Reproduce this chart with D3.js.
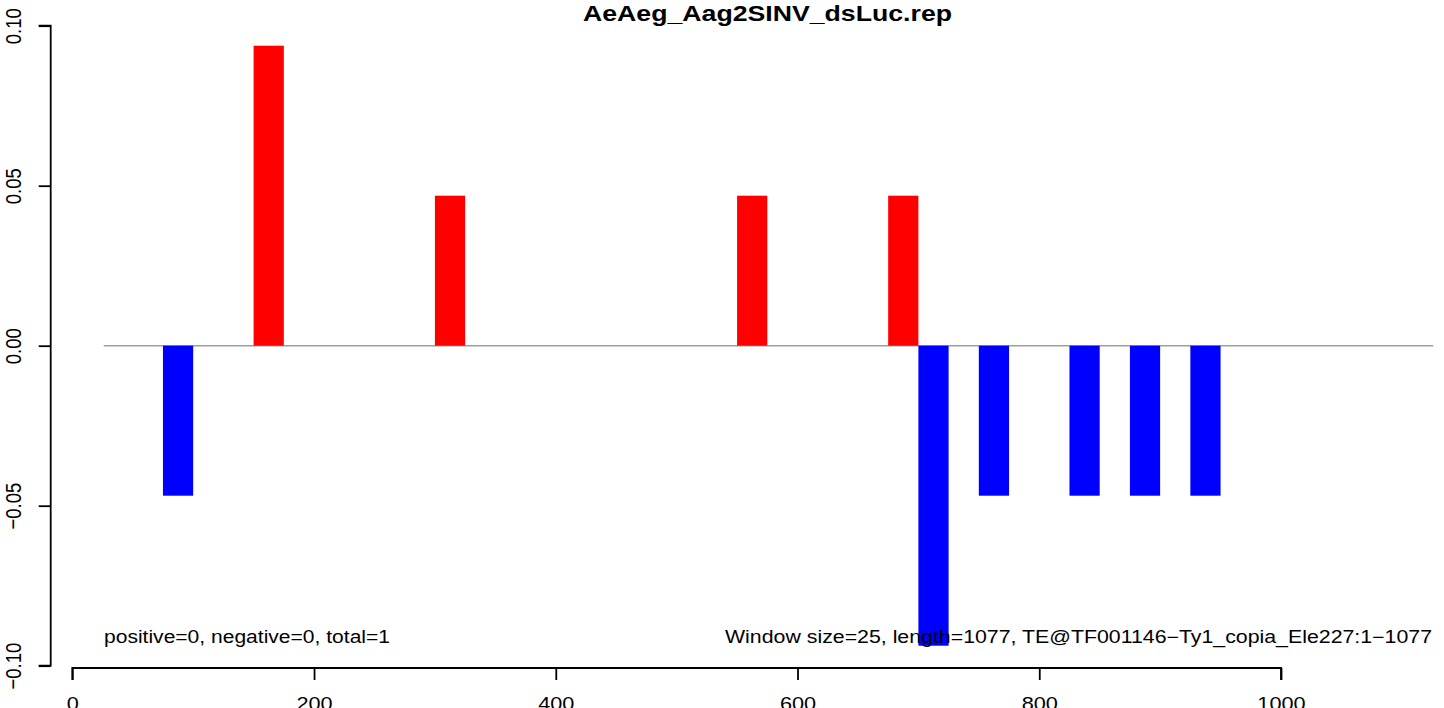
<!DOCTYPE html>
<html><head><meta charset="utf-8">
<script src="https://cdn.jsdelivr.net/npm/d3@7"></script>
<style>
html,body{margin:0;padding:0;background:#fff;}
svg{display:block;}
text{font-family:"Liberation Sans",Arial,Helvetica,sans-serif;fill:#000;}
</style></head>
<body>
<svg id="c" width="1444" height="708"></svg>
<script>
const title = "AeAeg_Aag2SINV_dsLuc.rep";
const windowSize = 25;
const binStarts = [75, 150, 300, 550, 675, 700, 750, 825, 875, 925];
const binValues = [-0.046875, 0.09375, 0.046875, 0.046875, 0.046875, -0.09375, -0.046875, -0.046875, -0.046875, -0.046875];
const xTicks = [0, 200, 400, 600, 800, 1000];
const yTicks = [-0.10, -0.05, 0.00, 0.05, 0.10];
const yTickLabels = ["\u22120.10", "\u22120.05", "0.00", "0.05", "0.10"];
const zeroLineRange = [26, 1126];
const leftNote = "positive=0, negative=0, total=1";
const rightNote = "Window size=25, length=1077, TE@TF001146\u2212Ty1_copia_Ele227:1\u22121077";

const svg = d3.select("#c");
const x = d3.scaleLinear().domain([0, 1000]).range([72.3, 1281]);
const y = d3.scaleLinear().domain([-0.1, 0.1]).range([665.7, 25.7]);
const stretch = 1.24;

// zero line
svg.append("line")
  .attr("x1", x(zeroLineRange[0])).attr("x2", x(zeroLineRange[1]))
  .attr("y1", y(0)).attr("y2", y(0))
  .attr("stroke", "#9e9e9e").attr("stroke-width", 1.5);

// bars
svg.append("g").selectAll("rect").data(binStarts.map((s, i) => ({s, v: binValues[i]})))
  .join("rect")
  .attr("x", d => x(d.s))
  .attr("width", d => x(d.s + windowSize) - x(d.s))
  .attr("y", d => y(Math.max(0, d.v)))
  .attr("height", d => Math.abs(y(d.v) - y(0)))
  .attr("fill", d => d.v >= 0 ? "#ff0000" : "#0000ff");

// y axis
const yAxis = d3.axisLeft(y).tickValues(yTicks).tickSize(12).tickFormat((d, i) => yTickLabels[i]);
const gy = svg.append("g").attr("transform", "translate(50.7,0)").call(yAxis);
gy.attr("font-family", null).attr("font-size", null);
gy.select(".domain").attr("stroke", "#000").attr("stroke-width", 1.8).attr("d", `M-12,${y(0.1)}H0V${y(-0.1)}H-12`);
gy.selectAll(".tick line").attr("stroke", "#000").attr("stroke-width", 1.8);
gy.selectAll(".tick text")
  .attr("font-size", 18.5)
  .attr("text-anchor", "middle")
  .attr("x", 0).attr("y", 0).attr("dy", null)
  .attr("transform", `translate(-30,0) rotate(-90) scale(1,${stretch})`);

// x axis
const xAxis = d3.axisBottom(x).tickValues(xTicks).tickSize(12).tickFormat(d3.format("d"));
const gx = svg.append("g").attr("transform", "translate(0,668)").call(xAxis);
gx.attr("font-family", null).attr("font-size", null);
gx.select(".domain").attr("stroke", "#000").attr("stroke-width", 1.8).attr("d", `M${x(0)},12V0H${x(1000)}V12`);
gx.selectAll(".tick line").attr("stroke", "#000").attr("stroke-width", 1.8);
gx.selectAll(".tick text").attr("font-size", 17.5).attr("x", 0).attr("y", 0).attr("dy", null)
  .attr("transform", `translate(0,42) scale(${stretch},1)`);

// notes
svg.append("text").attr("x", 104).attr("y", 643).attr("font-size", 17.5)
  .attr("textLength", 286).attr("lengthAdjust", "spacingAndGlyphs").text(leftNote);
svg.append("text").attr("x", 725).attr("y", 643).attr("font-size", 17.5)
  .attr("textLength", 707).attr("lengthAdjust", "spacingAndGlyphs").text(rightNote);

// title
svg.append("text").attr("x", 583).attr("y", 21).attr("font-size", 21.5).attr("font-weight", "bold")
  .attr("textLength", 369).attr("lengthAdjust", "spacingAndGlyphs").text(title);
</script>
</body></html>
